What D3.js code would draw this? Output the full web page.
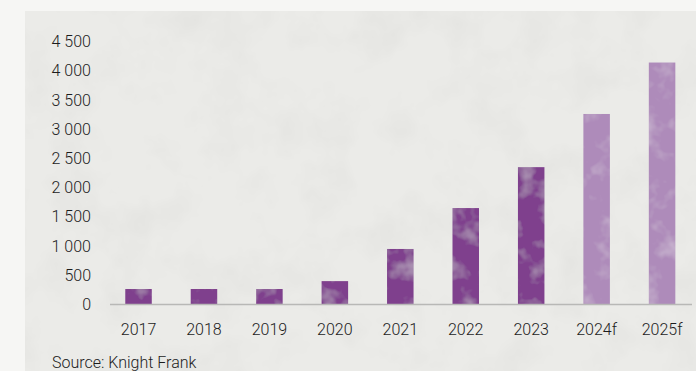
<!DOCTYPE html>
<html>
<head>
<meta charset="utf-8">
<script src="https://cdn.jsdelivr.net/npm/d3@7"></script>
<style>
  html, body { margin: 0; padding: 0; background: #f6f6f4; }
  svg { display: block; }
  text { font-family: Roboto, "Noto Sans", sans-serif; }
</style>
</head>
<body>
<svg id="chart" width="696" height="371"></svg>
<script>
// Annual volumes, actual and forecast (f)
const categories = ["2017", "2018", "2019", "2020", "2021", "2022", "2023", "2024f", "2025f"];
const values = [265, 265, 265, 400, 950, 1650, 2350, 3260, 4140];
const forecast = [false, false, false, false, false, false, false, true, true];
const yTicks = [0, 500, 1000, 1500, 2000, 2500, 3000, 3500, 4000, 4500];
const sourceNote = "Source: Knight Frank";

const svg = d3.select("#chart");
const W = 696, H = 371;

const defs = svg.append("defs");

// paper grain for the panel
const paper = defs.append("filter").attr("id", "paper")
  .attr("x", 0).attr("y", 0).attr("width", 1).attr("height", 1);
paper.append("feTurbulence").attr("type", "fractalNoise")
  .attr("baseFrequency", 0.02).attr("numOctaves", 4).attr("seed", 7).attr("result", "n");
paper.append("feColorMatrix").attr("in", "n").attr("type", "matrix")
  .attr("values", "0 0 0 0 0  0 0 0 0 0  0 0 0 0 0  0 0 0 -1.0 0.6");
paper.append("feComposite").attr("in2", "SourceGraphic").attr("operator", "in");

// faint cloudy mottling on the bars
const mottle = defs.append("filter").attr("id", "mottle")
  .attr("filterUnits", "userSpaceOnUse")
  .attr("x", 0).attr("y", 0).attr("width", W).attr("height", H);
mottle.append("feTurbulence").attr("type", "fractalNoise")
  .attr("baseFrequency", 0.05).attr("numOctaves", 3).attr("seed", 3).attr("result", "n");
mottle.append("feColorMatrix").attr("in", "n").attr("type", "matrix")
  .attr("values", "0 0 0 0 1  0 0 0 0 1  0 0 0 0 1  0 0 0 0.6 -0.3").attr("result", "w");
mottle.append("feComposite").attr("in", "w").attr("in2", "SourceGraphic").attr("operator", "in").attr("result", "wm");
mottle.append("feMerge").call(m => {
  m.append("feMergeNode").attr("in", "SourceGraphic");
  m.append("feMergeNode").attr("in", "wm");
});

// panel background
const panel = { x: 25, y: 11, w: W - 25, h: H - 11 };
svg.append("rect").attr("width", W).attr("height", H).attr("fill", "#f6f6f4");
svg.append("rect").attr("x", panel.x).attr("y", panel.y)
  .attr("width", panel.w).attr("height", panel.h).attr("fill", "#ebebe8");
svg.append("rect").attr("x", panel.x).attr("y", panel.y)
  .attr("width", panel.w).attr("height", panel.h).attr("fill", "#000")
  .attr("opacity", 0.05).attr("filter", "url(#paper)");

// scales
const x = d3.scaleBand()
  .domain(categories)
  .range([105.8, 694.8])
  .paddingInner(0.595)
  .paddingOuter(0.2975);

const y = d3.scaleLinear().domain([0, 4500]).range([304.5, 41.5]);

const fmt = d3.formatLocale({ decimal: ",", thousands: " ", grouping: [3], currency: ["", ""] }).format(",d");

// y axis labels
const yAxis = svg.append("g")
  .attr("transform", "translate(91,0)")
  .call(d3.axisLeft(y).tickValues(yTicks).tickFormat(fmt).tickSize(0).tickPadding(0));
yAxis.select(".domain").remove();
yAxis.selectAll("text")
  .attr("fill", "#1c1c1c").attr("font-size", 16).attr("font-weight", 300);

// bars
const data = categories.map((c, i) => ({ c, v: values[i], f: forecast[i] }));
svg.append("g").selectAll("rect").data(data).join("rect")
  .attr("x", d => x(d.c))
  .attr("width", x.bandwidth())
  .attr("y", d => y(d.v))
  .attr("height", d => y(0) - y(d.v))
  .attr("fill", d => d.f ? "#ae8bba" : "#7f418d")
  .attr("filter", "url(#mottle)");

// baseline
svg.append("line")
  .attr("x1", 110).attr("x2", 692)
  .attr("y1", y(0)).attr("y2", y(0))
  .attr("stroke", "#b8b8b6").attr("stroke-width", 1.5);

// x axis labels
const xAxis = svg.append("g")
  .attr("transform", `translate(0,${y(0)})`)
  .call(d3.axisBottom(x).tickSize(0).tickPadding(19));
xAxis.select(".domain").remove();
xAxis.selectAll("text")
  .attr("fill", "#1c1c1c").attr("font-size", 16).attr("font-weight", 300);

// source note
svg.append("text")
  .attr("x", 52).attr("y", 368)
  .attr("fill", "#1c1c1c").attr("font-size", 16).attr("font-weight", 300)
  .text(sourceNote);
</script>
</body>
</html>
